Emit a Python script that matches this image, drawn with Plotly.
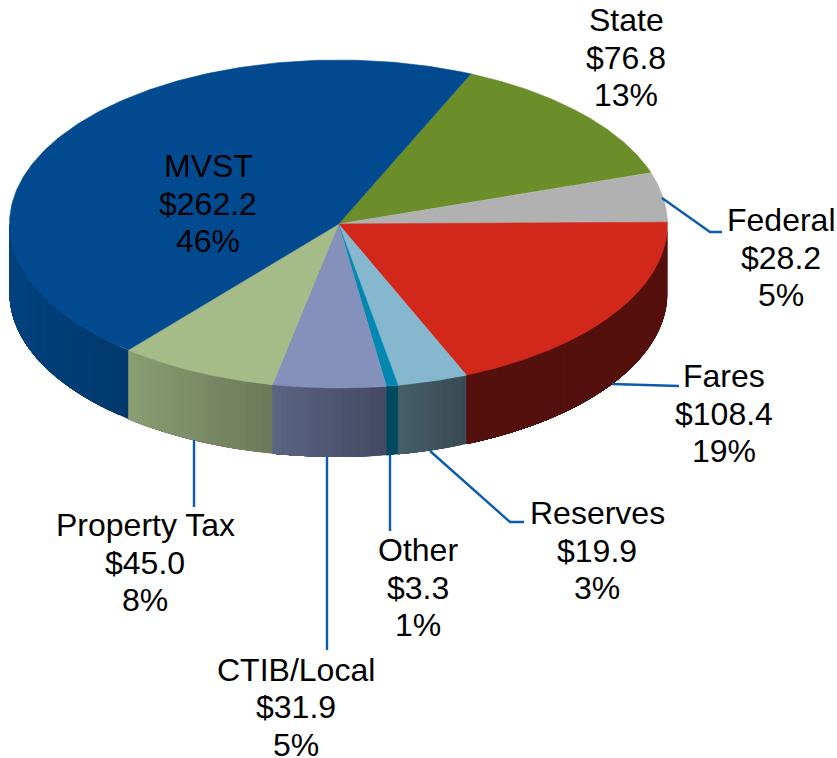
import numpy as np
import plotly.graph_objects as go

categories = ["State", "Federal", "Fares", "Reserves", "Other", "CTIB/Local", "Property Tax", "MVST"]
values = [76.8, 28.2, 108.4, 19.9, 3.3, 31.9, 45.0, 262.2]
percents = ["13%", "5%", "19%", "3%", "1%", "5%", "8%", "46%"]

top_colors = ["#6b8e2a", "#b1b1b1", "#d2281c", "#85b8ce", "#0088b0", "#8492bb", "#a5bb88", "#024a8f"]
side_left = ["#4d661e", "#7f7f7f", "#54100c", "#46606a", "#004a60", "#5c6585", "#8a9d73", "#01427f"]
side_right = ["#4d661e", "#7f7f7f", "#54100c", "#3a4a54", "#004a60", "#444a62", "#6c7a59", "#00386c"]

label_x = [626, 781, 724, 597, 418, 296, 145, 208]
label_y = [57.5, 257.5, 413.5, 550.5, 587.5, 707, 562.5, 203.5]

CX, CY, RX, RY, DEPTH = 338.5, 224.0, 329.0, 164.0, 69.0
START = 23.7
LINE_STEP = 37.5
LEADER = "#0b5cad"
leaders = [
    [(662, 198), (710, 232), (722, 232)],
    [(612, 384), (679, 386)],
    [(430, 451), (510, 522), (524, 522)],
    [(390, 455), (390, 531)],
    [(327, 457), (327, 650)],
    [(194, 440), (194, 507)],
]


def ex(t):
    return CX + RX * np.sin(np.radians(t))


def ey(t):
    return CY - RY * np.cos(np.radians(t))


def mix(a, b, f):
    ca = [int(a[i:i + 2], 16) for i in (1, 3, 5)]
    cb = [int(b[i:i + 2], 16) for i in (1, 3, 5)]
    return "rgb(%d,%d,%d)" % tuple(round(x + (y - x) * f) for x, y in zip(ca, cb))


total = sum(values)
edges = START + 360 * np.concatenate([[0], np.cumsum(values)]) / total

fig = go.Figure()

# Side wall: each strip reaches to the slice's far end, so later strips paint over it without seams
for i in range(len(values)):
    a = max(edges[i], 90.0)
    b = min(edges[i + 1], 270.0)
    if a >= b:
        continue
    n = max(2, int(abs(ex(a) - ex(b)) / 5) + 1)
    cuts = np.linspace(a, b, n + 1)
    for k in range(n):
        mid = np.linspace(cuts[k], b, 40)
        xs = np.concatenate([ex(mid), ex(mid[::-1])])
        ys = np.concatenate([ey(mid) + DEPTH, ey(mid[::-1])])
        f = (ex(a) - ex(cuts[k])) / max(1e-6, ex(a) - ex(b))
        col = mix(side_right[i], side_left[i], f)
        fig.add_trace(go.Scatter(x=xs, y=ys, mode="lines", fill="toself", fillcolor=col,
                                 line=dict(width=0), hoverinfo="skip", showlegend=False))

# Top face
for i in range(len(values)):
    t = np.linspace(edges[i], edges[i + 1], 200)
    xs = np.concatenate([[CX], ex(t), [CX]])
    ys = np.concatenate([[CY], ey(t), [CY]])
    fig.add_trace(go.Scatter(x=xs, y=ys, mode="lines", fill="toself", fillcolor=top_colors[i],
                             line=dict(color=top_colors[i], width=0.6), name=categories[i],
                             hoverinfo="name", showlegend=False))

shapes = []
for pts in leaders:
    path = "M " + " L ".join(f"{x} {y}" for x, y in pts)
    shapes.append(dict(type="path", path=path, xref="x", yref="y",
                       line=dict(color=LEADER, width=2.4), layer="above"))

annotations = []
for i in range(len(values)):
    lines = [categories[i], f"${values[i]:.1f}", percents[i]]
    for j, text in enumerate(lines):
        annotations.append(dict(
            x=label_x[i], y=label_y[i] + (j - 1) * LINE_STEP, xref="x", yref="y", showarrow=False,
            text=text, align="center", xanchor="center", yanchor="middle",
            font=dict(family="Liberation Sans, Arial, sans-serif", size=32, color="#000000")))

fig.update_layout(
    width=837, height=758, autosize=False,
    margin=dict(l=0, r=0, t=0, b=0),
    paper_bgcolor="#ffffff", plot_bgcolor="#ffffff",
    xaxis=dict(range=[0, 837], visible=False, fixedrange=True),
    yaxis=dict(range=[758, 0], visible=False, fixedrange=True),
    shapes=shapes, annotations=annotations,
)
fig.write_html("out.html", config=dict(displayModeBar=False),
               post_script="document.body.style.margin='0';document.documentElement.style.overflow='hidden';")
